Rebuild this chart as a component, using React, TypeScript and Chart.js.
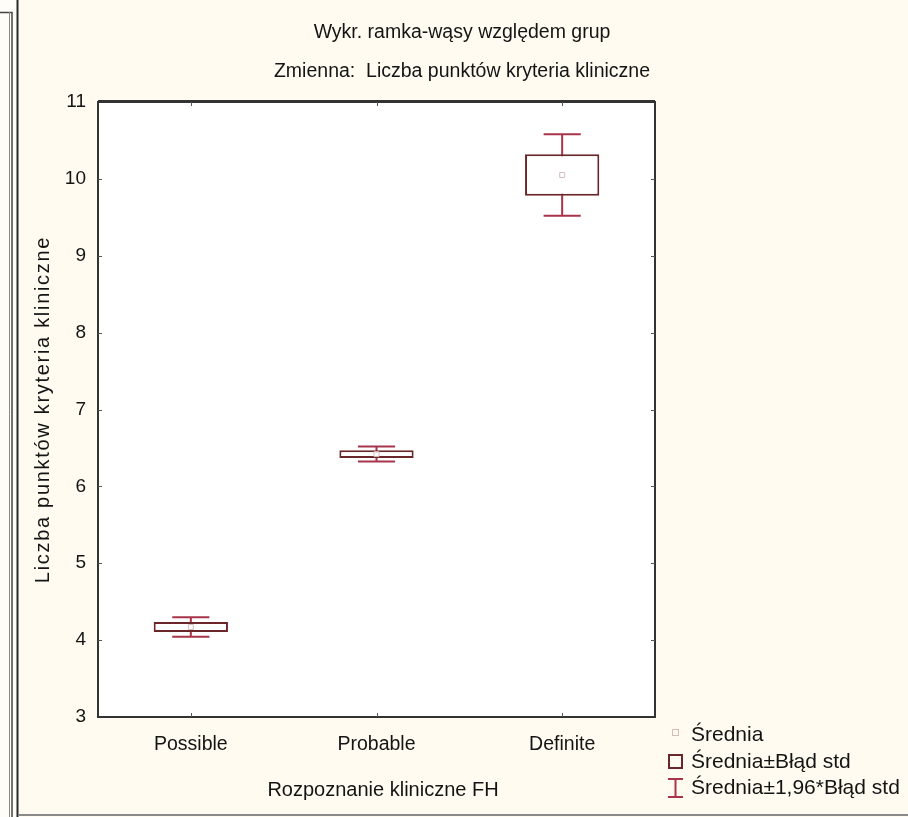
import React, { useEffect, useRef } from "react";
import { Chart, registerables } from "chart.js";

Chart.register(...registerables);

// Group data: mean and standard error of the clinical-criteria score
const categories = ["Possible", "Probable", "Definite"];
const means = [4.17, 6.42, 10.05];
const stdErrors = [0.065, 0.05, 0.27];
const ciFactor = 1.96;

const yMin = 3;
const yMax = 11;
const yStep = 1;

const titleLines = [
  "Wykr. ramka-wąsy względem grup",
  "Zmienna:  Liczba punktów kryteria kliniczne",
];
const xAxisTitle = "Rozpoznanie kliniczne FH";
const yAxisTitle = "Liczba punktów kryteria kliniczne";
const legendLabels = ["Średnia", "Średnia±Błąd std", "Średnia±1,96*Błąd std"];

const FONT = "'Liberation Sans', Arial, sans-serif";
const CREAM = "#fffbf0";
const BOX_COLOR = "#6a2629";
const WHISKER_COLOR = "#a8344a";
const MEAN_COLOR = "#d6bcbc";
const FRAME_COLOR = "#333333";
const TEXT_COLOR = "#141414";

const decorPlugin = {
  id: "statDecor",
  beforeDraw(chart: any) {
    const { ctx, chartArea: a, width, height } = chart;
    ctx.save();
    // panel background
    ctx.fillStyle = "#fffdf7";
    ctx.fillRect(0, 0, width, height);
    ctx.fillStyle = CREAM;
    ctx.fillRect(18, 0, width - 18, height);
    // window frame on the left and bottom
    ctx.strokeStyle = "#444";
    ctx.lineWidth = 1.5;
    ctx.beginPath();
    ctx.moveTo(0, 12.5);
    ctx.lineTo(12, 12.5);
    ctx.lineTo(12, height);
    ctx.stroke();
    ctx.strokeStyle = "#888";
    ctx.lineWidth = 1;
    ctx.beginPath();
    ctx.moveTo(9.5, 12);
    ctx.lineTo(9.5, height);
    ctx.stroke();
    ctx.strokeStyle = "#2a2a2a";
    ctx.lineWidth = 2;
    ctx.beginPath();
    ctx.moveTo(17.5, 0);
    ctx.lineTo(17.5, height);
    ctx.stroke();
    ctx.strokeStyle = "#8a8a8a";
    ctx.lineWidth = 2;
    ctx.beginPath();
    ctx.moveTo(18, height - 2);
    ctx.lineTo(width, height - 2);
    ctx.stroke();
    // plot background
    ctx.fillStyle = "#ffffff";
    ctx.fillRect(a.left, a.top, a.right - a.left, a.bottom - a.top);
    ctx.restore();
  },
  beforeDatasetsDraw(chart: any) {
    // whiskers: mean ± 1.96 * standard error
    const { ctx } = chart;
    const xs = chart.scales.x;
    const ys = chart.scales.y;
    const meta = chart.getDatasetMeta(0);
    ctx.save();
    ctx.strokeStyle = WHISKER_COLOR;
    ctx.lineWidth = 2;
    means.forEach((m, i) => {
      const x = xs.getPixelForValue(i);
      const half = (meta.data[i]?.width ?? 74) / 4;
      const yHi = ys.getPixelForValue(m + ciFactor * stdErrors[i]);
      const yLo = ys.getPixelForValue(m - ciFactor * stdErrors[i]);
      ctx.beginPath();
      ctx.moveTo(x, yHi);
      ctx.lineTo(x, yLo);
      ctx.moveTo(x - half, yHi);
      ctx.lineTo(x + half, yHi);
      ctx.moveTo(x - half, yLo);
      ctx.lineTo(x + half, yLo);
      ctx.stroke();
    });
    ctx.restore();
  },
  afterDraw(chart: any) {
    const { ctx, chartArea: a } = chart;
    const xs = chart.scales.x;
    const ys = chart.scales.y;
    ctx.save();
    // plot frame
    ctx.strokeStyle = FRAME_COLOR;
    ctx.lineWidth = 2;
    ctx.strokeRect(a.left, a.top, a.right - a.left, a.bottom - a.top);
    ctx.beginPath();
    ctx.moveTo(a.left, a.top - 1);
    ctx.lineTo(a.right, a.top - 1);
    ctx.stroke();
    // inward tick marks
    ctx.lineWidth = 1;
    ctx.strokeStyle = "#555";
    ctx.beginPath();
    for (let v = yMin + yStep; v < yMax; v += yStep) {
      const y = Math.round(ys.getPixelForValue(v)) + 0.5;
      ctx.moveTo(a.left, y);
      ctx.lineTo(a.left + 4, y);
      ctx.moveTo(a.right - 4, y);
      ctx.lineTo(a.right, y);
    }
    categories.forEach((_, i) => {
      const x = Math.round(xs.getPixelForValue(i)) + 0.5;
      ctx.moveTo(x, a.top);
      ctx.lineTo(x, a.top + 4);
      ctx.moveTo(x, a.bottom - 4);
      ctx.lineTo(x, a.bottom);
    });
    ctx.stroke();

    // titles
    ctx.fillStyle = TEXT_COLOR;
    ctx.textAlign = "center";
    ctx.textBaseline = "middle";
    ctx.font = `19.5px ${FONT}`;
    ctx.fillText(titleLines[0], 462, 33);
    ctx.fillText(titleLines[1], 462, 72);

    // axis titles
    ctx.font = `20px ${FONT}`;
    ctx.fillText(xAxisTitle, 383, 790);
    ctx.save();
    ctx.translate(43, (a.top + a.bottom) / 2);
    ctx.rotate(-Math.PI / 2);
    (ctx as any).letterSpacing = "1.7px";
    ctx.fillText(yAxisTitle, 0, 0);
    (ctx as any).letterSpacing = "0px";
    ctx.restore();

    // legend
    const lx = 675;
    const rows = [735, 762, 788];
    ctx.lineWidth = 1;
    ctx.strokeStyle = MEAN_COLOR;
    ctx.strokeRect(lx - 2.5, rows[0] - 5.5, 6, 6);
    ctx.lineWidth = 2;
    ctx.strokeStyle = BOX_COLOR;
    ctx.strokeRect(lx - 6, rows[1] - 7, 13, 13);
    ctx.strokeStyle = WHISKER_COLOR;
    ctx.beginPath();
    ctx.moveTo(lx + 0.5, rows[2] - 9);
    ctx.lineTo(lx + 0.5, rows[2] + 9);
    ctx.moveTo(lx - 7, rows[2] - 9);
    ctx.lineTo(lx + 8, rows[2] - 9);
    ctx.moveTo(lx - 7, rows[2] + 9);
    ctx.lineTo(lx + 8, rows[2] + 9);
    ctx.stroke();
    ctx.fillStyle = TEXT_COLOR;
    ctx.textAlign = "left";
    ctx.font = `21px ${FONT}`;
    legendLabels.forEach((t, i) => ctx.fillText(t, 691, rows[i]));
    ctx.restore();
  },
};

export default function App() {
  const ref = useRef<HTMLCanvasElement | null>(null);

  useEffect(() => {
    if (!ref.current) return;
    const chart = new Chart(ref.current, {
      type: "bar",
      data: {
        labels: categories,
        datasets: [
          {
            type: "bar",
            label: legendLabels[1],
            data: means.map((m, i) => [m - stdErrors[i], m + stdErrors[i]]) as any,
            backgroundColor: "#ffffff",
            borderColor: BOX_COLOR,
            borderWidth: 2,
            borderSkipped: false,
            categoryPercentage: 0.8,
            barPercentage: 0.5,
            order: 2,
          },
          {
            type: "line",
            label: legendLabels[0],
            data: means,
            showLine: false,
            pointStyle: "rect",
            pointRadius: 3.5,
            pointBorderWidth: 1,
            pointBorderColor: MEAN_COLOR,
            pointBackgroundColor: "rgba(255,255,255,0)",
            order: 1,
          } as any,
        ],
      },
      options: {
        animation: false,
        responsive: false,
        events: [],
        layout: { padding: { left: 18, top: 102, right: 253, bottom: 0 } },
        plugins: {
          legend: { display: false },
          title: { display: false },
          tooltip: { enabled: false },
        },
        scales: {
          x: {
            type: "category",
            offset: true,
            grid: { display: false, drawTicks: false },
            border: { display: false },
            ticks: {
              color: TEXT_COLOR,
              padding: 16,
              font: { family: FONT, size: 19.5 },
            },
            afterFit: (s: any) => {
              s.height = 100;
            },
          },
          y: {
            type: "linear",
            min: yMin,
            max: yMax,
            grid: { display: false, drawTicks: false },
            border: { display: false },
            ticks: {
              stepSize: yStep,
              color: TEXT_COLOR,
              padding: 12,
              font: { family: FONT, size: 19 },
            },
            afterFit: (s: any) => {
              s.width = 80;
            },
          },
        },
      },
      plugins: [decorPlugin],
    });
    return () => chart.destroy();
  }, []);

  return (
    <div style={{ position: "absolute", left: 0, top: 0, width: 908, height: 817 }}>
      <canvas ref={ref} width={908} height={817} />
    </div>
  );
}
